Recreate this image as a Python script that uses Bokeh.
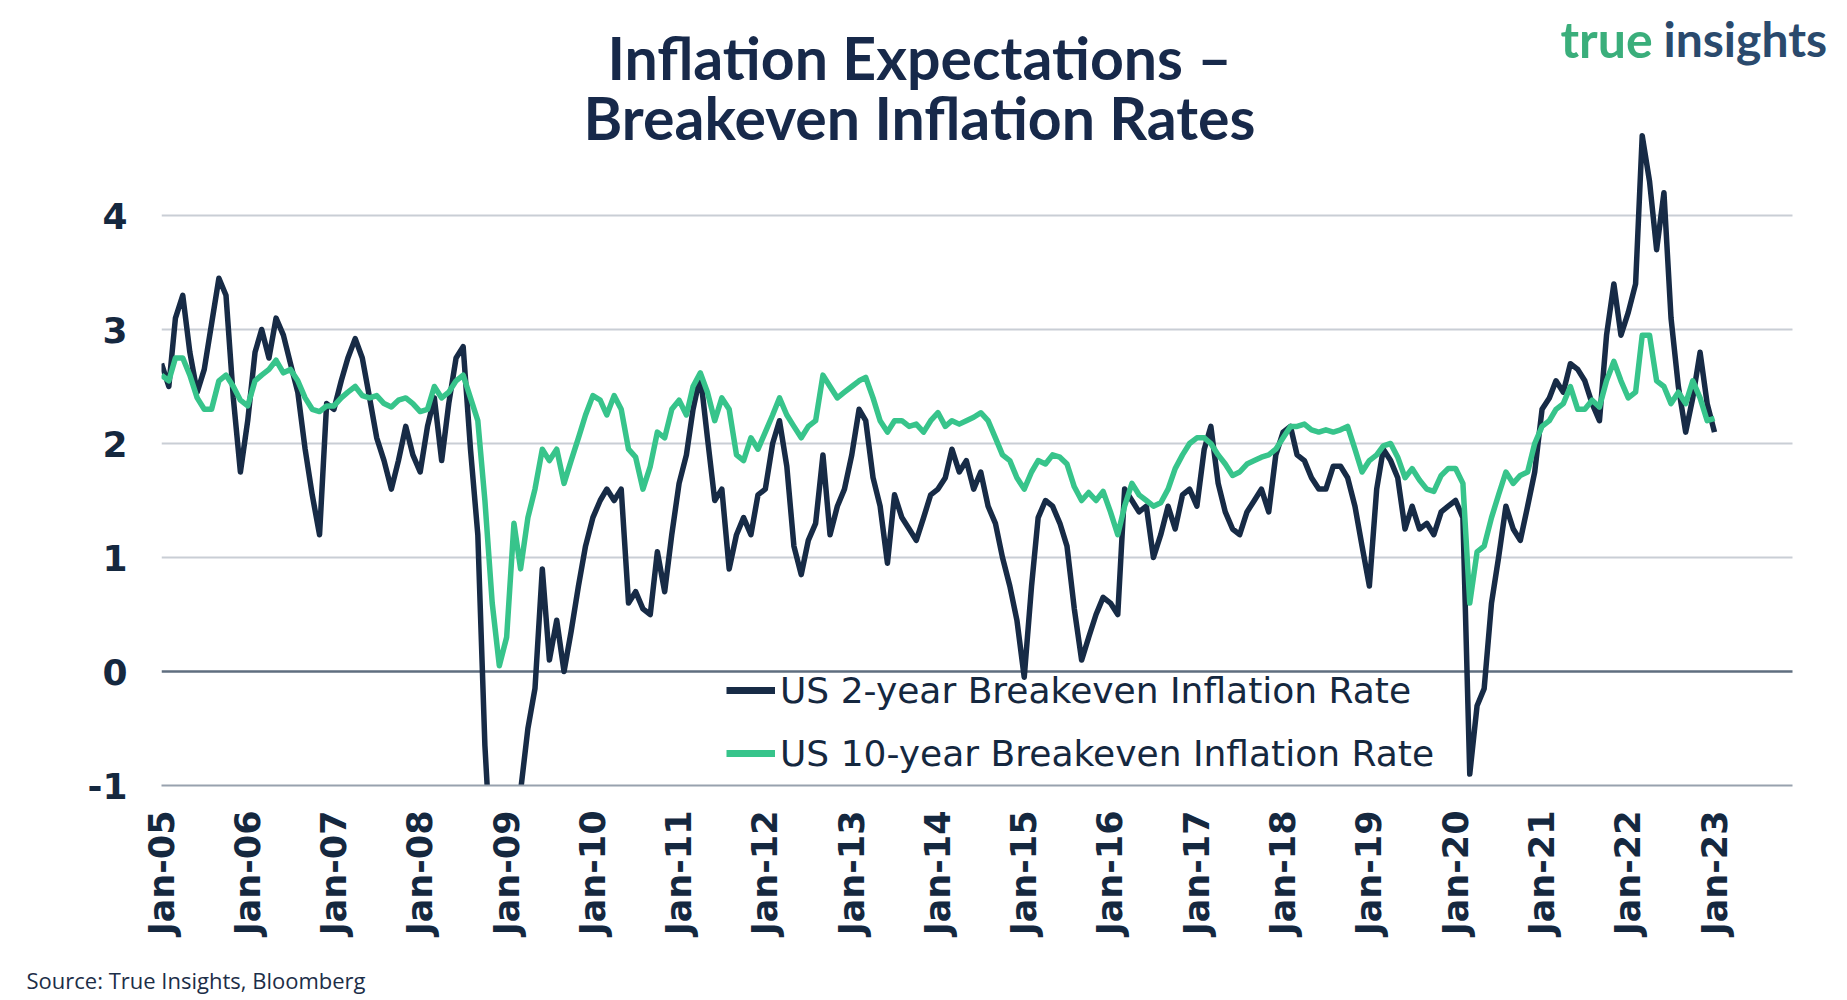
import math
import pandas as pd
from bokeh.plotting import figure
from bokeh.models import (Range1d, FixedTicker, DatetimeTickFormatter, Legend,
                          LegendItem, Label, Title, Grid, ColumnDataSource,
                          CustomJSTickFormatter)
from bokeh.embed import file_html
from bokeh.resources import INLINE

# ---------------- data (monthly) ----------------
months = pd.date_range("2005-01-01", "2023-01-01", freq="MS")

us_2y = [
    # 2005
    2.7, 2.5, 3.1, 3.3, 2.8, 2.45, 2.65, 3.05, 3.45, 3.3, 2.4, 1.75,
    # 2006
    2.2, 2.8, 3.0, 2.75, 3.1, 2.95, 2.7, 2.45, 1.95, 1.55, 1.2, 2.35,
    # 2007
    2.3, 2.55, 2.75, 2.92, 2.75, 2.4, 2.05, 1.85, 1.6, 1.85, 2.15, 1.9,
    # 2008
    1.75, 2.15, 2.4, 1.85, 2.35, 2.75, 2.85, 1.95, 1.2, -0.65, -1.8, -2.8,
    # 2009
    -2.4, -1.6, -1.05, -0.5, -0.15, 0.9, 0.1, 0.45, 0.0, 0.35, 0.75, 1.1,
    # 2010
    1.35, 1.5, 1.6, 1.5, 1.6, 0.6, 0.7, 0.55, 0.5, 1.05, 0.7, 1.2,
    # 2011
    1.65, 1.9, 2.3, 2.6, 2.05, 1.5, 1.6, 0.9, 1.2, 1.35, 1.2, 1.55,
    # 2012
    1.6, 2.0, 2.2, 1.8, 1.1, 0.85, 1.15, 1.3, 1.9, 1.2, 1.45, 1.6,
    # 2013
    1.9, 2.3, 2.2, 1.7, 1.45, 0.95, 1.55, 1.35, 1.25, 1.15, 1.35, 1.55,
    # 2014
    1.6, 1.7, 1.95, 1.75, 1.85, 1.6, 1.75, 1.45, 1.3, 1.0, 0.75, 0.45,
    # 2015
    -0.05, 0.75, 1.35, 1.5, 1.45, 1.3, 1.1, 0.55, 0.1, 0.3, 0.5, 0.65,
    # 2016
    0.6, 0.5, 1.6, 1.5, 1.4, 1.45, 1.0, 1.2, 1.45, 1.25, 1.55, 1.6,
    # 2017
    1.45, 1.95, 2.15, 1.65, 1.4, 1.25, 1.2, 1.4, 1.5, 1.6, 1.4, 1.9,
    # 2018
    2.1, 2.15, 1.9, 1.85, 1.7, 1.6, 1.6, 1.8, 1.8, 1.7, 1.45, 1.1,
    # 2019
    0.75, 1.6, 1.95, 1.85, 1.7, 1.25, 1.45, 1.25, 1.3, 1.2, 1.4, 1.45,
    # 2020
    1.5, 1.35, -0.9, -0.3, -0.15, 0.6, 1.0, 1.45, 1.25, 1.15, 1.45, 1.75,
    # 2021
    2.3, 2.4, 2.55, 2.45, 2.7, 2.65, 2.55, 2.35, 2.2, 2.95, 3.4, 2.95,
    # 2022
    3.15, 3.4, 4.7, 4.3, 3.7, 4.2, 3.1, 2.5, 2.1, 2.4, 2.8, 2.35,
    # 2023
    2.1,
]

us_10y = [
    # 2005
    2.6, 2.55, 2.75, 2.75, 2.6, 2.4, 2.3, 2.3, 2.55, 2.6, 2.5, 2.38,
    # 2006
    2.33, 2.55, 2.6, 2.65, 2.73, 2.62, 2.65, 2.55, 2.4, 2.3, 2.28, 2.33,
    # 2007
    2.33, 2.4, 2.45, 2.5, 2.42, 2.4, 2.42, 2.35, 2.32, 2.38, 2.4, 2.35,
    # 2008
    2.28, 2.3, 2.5, 2.4, 2.45, 2.55, 2.6, 2.4, 2.2, 1.5, 0.6, 0.05,
    # 2009
    0.3, 1.3, 0.9, 1.35, 1.6, 1.95, 1.85, 1.95, 1.65, 1.85, 2.05, 2.25,
    # 2010
    2.42, 2.38, 2.25, 2.42, 2.3, 1.95, 1.88, 1.6, 1.8, 2.1, 2.05, 2.3,
    # 2011
    2.38, 2.25, 2.5, 2.62, 2.45, 2.2, 2.4, 2.3, 1.9, 1.85, 2.05, 1.95,
    # 2012
    2.1, 2.25, 2.4, 2.25, 2.15, 2.05, 2.15, 2.2, 2.6, 2.5, 2.4, 2.45,
    # 2013
    2.5, 2.55, 2.58, 2.4, 2.2, 2.1, 2.2, 2.2, 2.15, 2.17, 2.1, 2.2,
    # 2014
    2.27, 2.15, 2.2, 2.17, 2.2, 2.23, 2.27, 2.2, 2.05, 1.9, 1.85, 1.7,
    # 2015
    1.6, 1.75, 1.85, 1.82, 1.9, 1.88, 1.82, 1.62, 1.5, 1.57, 1.5, 1.58,
    # 2016
    1.4, 1.2, 1.45, 1.65, 1.55, 1.5, 1.45, 1.48, 1.6, 1.78, 1.9, 2.0,
    # 2017
    2.05, 2.05, 2.0, 1.9, 1.82, 1.72, 1.75, 1.82, 1.85, 1.88, 1.9, 1.95,
    # 2018
    2.05, 2.15, 2.15, 2.17, 2.12, 2.1, 2.12, 2.1, 2.12, 2.15, 1.95, 1.75,
    # 2019
    1.85, 1.9, 1.98, 2.0, 1.88, 1.7, 1.78, 1.68, 1.6, 1.58, 1.72, 1.78,
    # 2020
    1.78, 1.65, 0.6, 1.05, 1.1, 1.35, 1.55, 1.75, 1.65, 1.72, 1.75, 2.0,
    # 2021
    2.15, 2.2, 2.3, 2.35, 2.5, 2.3, 2.3, 2.38, 2.32, 2.55, 2.72, 2.55,
    # 2022
    2.4, 2.45, 2.95, 2.95, 2.55, 2.5, 2.35, 2.45, 2.35, 2.55, 2.4, 2.2,
    # 2023
    2.22,
]

tick_years = list(range(2005, 2024))
y_ticks = [-1, 0, 1, 2, 3, 4]
grid_ticks = [1, 2, 3, 4]

series_names = ["US 2-year Breakeven Inflation Rate",
                "US 10-year Breakeven Inflation Rate"]

# ---------------- layout constants (pixels) ----------------
W, H = 1847, 1000
FRAME_L, FRAME_B = 161, 785          # plot frame left / bottom edges
TICK0_PX, TICK23_PX = 161, 1714      # Jan-05 / Jan-23 tick positions
DATA_R_PX = 1792                     # right end of the gridlines
PX_PER_UNIT = 114                    # pixels per 1 percentage point

def ms(ts):
    return (pd.Timestamp(ts) - pd.Timestamp("1970-01-01")) // pd.Timedelta(milliseconds=1)

t0, t23 = ms("2005-01-01"), ms("2023-01-01")
ms_per_px = (t23 - t0) / (TICK23_PX - TICK0_PX)
x_start = t0 - (TICK0_PX - FRAME_L) * ms_per_px
x_end = t0 + (W - TICK0_PX) * ms_per_px
x_data_end = t0 + (DATA_R_PX - TICK0_PX) * ms_per_px
y_start = -1
y_end = -1 + FRAME_B / PX_PER_UNIT

NAVY = "#172b46"
GREEN = "#37c48b"
TEXT = "#15283f"

source = ColumnDataSource(dict(date=months, y2=us_2y, y10=us_10y))

p = figure(width=W, height=H, x_axis_type="datetime",
           x_range=Range1d(x_start, x_end), y_range=Range1d(y_start, y_end),
           output_backend="svg", toolbar_location=None, tools="",
           min_border=0, min_border_left=FRAME_L, min_border_right=0,
           min_border_top=0, min_border_bottom=H - FRAME_B)
p.title.visible = False
p.outline_line_color = None
p.background_fill_color = "white"
p.border_fill_color = "white"

# ---------------- grid ----------------
p.xgrid.visible = False
has_cross = "cross_bounds" in Grid.properties()
if has_cross:
    p.ygrid.ticker = FixedTicker(ticks=grid_ticks)
    p.ygrid.grid_line_color = "#c9ced5"
    p.ygrid.grid_line_width = 2
    p.ygrid.cross_bounds = (x_start, x_data_end)
    zgrid = Grid(dimension=1, ticker=FixedTicker(ticks=[0]),
                 grid_line_color="#5f6e7f", grid_line_width=2.5,
                 cross_bounds=(x_start, x_data_end))
    p.add_layout(zgrid)
else:
    p.ygrid.visible = False
    n = len(grid_ticks)
    p.segment(x0=[x_start] * n, x1=[x_data_end] * n, y0=grid_ticks,
              y1=grid_ticks, line_color="#c9ced5", line_width=2)
    p.segment(x0=[x_start], x1=[x_data_end], y0=[0], y1=[0],
              line_color="#5f6e7f", line_width=2.5)

# ---------------- lines ----------------
p.line("date", "y2", source=source, line_color=NAVY, line_width=5.5,
       line_join="round")
p.line("date", "y10", source=source, line_color=GREEN, line_width=5.5,
       line_join="round")

# ---------------- axes ----------------
p.xaxis.ticker = FixedTicker(ticks=[ms(f"{y}-01-01") for y in tick_years])
fmt = "%b-%y"
p.xaxis.formatter = DatetimeTickFormatter(years=fmt, months=fmt, days=fmt,
                                          hours=fmt, minutes=fmt, seconds=fmt,
                                          milliseconds=fmt, microseconds=fmt,
                                          hourmin=fmt, minsec=fmt)
p.xaxis.bounds = (x_start, x_data_end)
p.xaxis.major_label_orientation = math.pi / 2
p.xaxis.axis_line_color = "#98a2ae"
p.xaxis.axis_line_width = 2
p.xaxis.major_tick_line_color = None
p.xaxis.minor_tick_line_color = None
p.xaxis.major_tick_out = 0
p.xaxis.minor_tick_out = 0
p.xaxis.major_label_standoff = 25
p.xaxis.major_label_text_font = "DejaVu Sans"
p.xaxis.major_label_text_font_style = "bold"
p.xaxis.major_label_text_font_size = "35px"
p.xaxis.major_label_text_color = TEXT
# blank axis label used only as spacing so that the source note sits lower
p.xaxis.axis_label = " "
p.xaxis.axis_label_standoff = 22
p.xaxis.axis_label_text_font_size = "1px"

p.yaxis.ticker = FixedTicker(ticks=y_ticks)
p.yaxis.formatter = CustomJSTickFormatter(code="return tick.toString();")
p.yaxis.axis_line_color = None
p.yaxis.major_tick_line_color = None
p.yaxis.minor_tick_line_color = None
p.yaxis.major_tick_out = 0
p.yaxis.minor_tick_out = 0
p.yaxis.major_label_standoff = 34
p.yaxis.major_label_text_font = "DejaVu Sans"
p.yaxis.major_label_text_font_style = "bold"
p.yaxis.major_label_text_font_size = "36px"
p.yaxis.major_label_text_color = TEXT

# ---------------- legend ----------------
l2 = p.line(x=[float("nan")], y=[float("nan")], line_color=NAVY, line_width=7)
l10 = p.line(x=[float("nan")], y=[float("nan")], line_color=GREEN, line_width=7)
legend = Legend(items=[LegendItem(label=series_names[0], renderers=[l2]),
                       LegendItem(label=series_names[1], renderers=[l10])],
                location=(726 - FRAME_L, FRAME_B - 774), orientation="vertical",
                label_text_font="DejaVu Sans", label_text_font_size="36px",
                label_text_color=TEXT, glyph_width=49, glyph_height=42,
                label_height=42, label_standoff=5, spacing=21, padding=0,
                margin=0, border_line_color=None, background_fill_alpha=0)
p.add_layout(legend)

# ---------------- title, logo (inside the frame, screen units) ----------------
def fy(baseline_px, size, extra=0):
    # screen y (from frame bottom) for a wanted baseline position in page pixels
    return FRAME_B - baseline_px + 0.42 * size - extra

TSIZE = 59
p.add_layout(Label(x=919 - FRAME_L, y=fy(77, TSIZE, 4.5), x_units="screen", y_units="screen",
                   text="Inflation Expectations –", text_align="center",
                   text_baseline="alphabetic", text_font="Lato",
                   text_font_style="bold", text_font_size=f"{TSIZE}px",
                   text_color="#17294a"))
p.add_layout(Label(x=919 - FRAME_L, y=fy(137, TSIZE, 4.5), x_units="screen", y_units="screen",
                   text="Breakeven Inflation Rates", text_align="center",
                   text_baseline="alphabetic", text_font="Lato",
                   text_font_style="bold", text_font_size=f"{TSIZE}px",
                   text_color="#17294a"))
p.add_layout(Label(x=1560 - FRAME_L, y=fy(54, 50, 5), x_units="screen", y_units="screen",
                   text="true", text_align="left", text_baseline="alphabetic",
                   text_font="Lato", text_font_style="bold",
                   text_font_size="50px", text_color="#3aae7b"))
p.add_layout(Label(x=1663 - FRAME_L, y=fy(54, 48, 4), x_units="screen", y_units="screen",
                   text="insights", text_align="left", text_baseline="alphabetic",
                   text_font="Lato", text_font_style="bold",
                   text_font_size="48px", text_color="#2a4a6d"))

# ---------------- source note (below the x axis) ----------------
p.add_layout(Title(text="Source: True Insights, Bloomberg", align="left",
                   offset=26 - FRAME_L, vertical_align="top", standoff=0,
                   text_font="Open Sans", text_font_style="normal",
                   text_font_size="22px", text_color="#1c2e48"), "below")

open("out.html", "w").write(file_html(p, INLINE))
